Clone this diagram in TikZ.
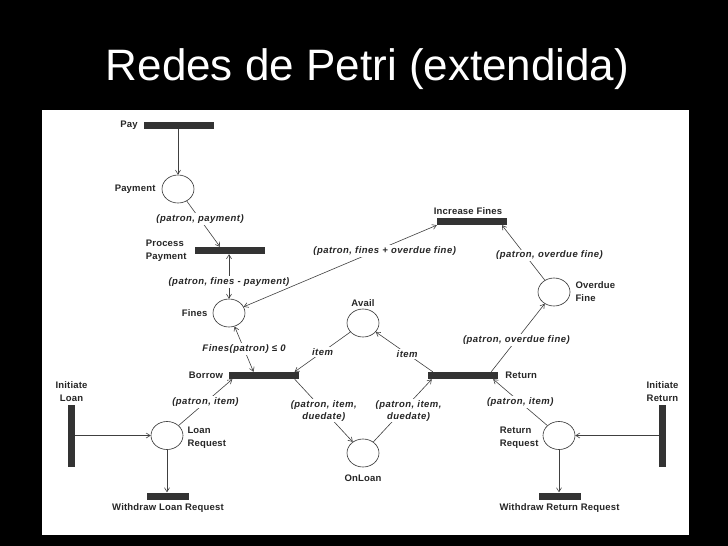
\documentclass[tikz,border=0pt]{standalone}
\usepackage{fontspec}
\setmainfont{Liberation Sans}
\newfontfamily\petrifont[LetterSpace=2]{Liberation Sans}
\newfontfamily\arcfont[LetterSpace=5]{Liberation Sans}
\usetikzlibrary{arrows.meta,shapes.geometric,positioning}
\tikzset{
  >={Straight Barb[length=4pt,width=5pt]},
  place/.style={ellipse,draw=black!80,line width=0.6pt,minimum width=32pt,
    minimum height=28pt,inner sep=0pt},
  tbar/.style={fill=black!80,minimum width=70pt,minimum height=7pt,inner sep=0pt},
  wbar/.style={tbar,minimum width=42pt},
  vbar/.style={fill=black!80,minimum width=7pt,minimum height=62pt,inner sep=0pt},
  arc/.style={->,draw=black!75,line width=0.6pt},
  arcboth/.style={<->,draw=black!75,line width=0.6pt},
  nlbl/.style={font=\petrifont\bfseries\fontsize{9.5}{13}\selectfont,
    inner sep=1pt,text=black!85},
  albl/.style={font=\arcfont\bfseries\itshape\fontsize{9.5}{12}\selectfont,
    fill=white,inner sep=1.5pt,text=black!85},
}
\begin{document}
\begin{tikzpicture}[x=1pt,y=-1pt]
  \useasboundingbox (0,0) rectangle (728,546);
  \fill[black] (0,0) rectangle (728,546);
  \fill[white] (42,110) rectangle (689,535);
  \node[font=\fontsize{44}{50}\selectfont,text=white,anchor=base] (title)
    at (367.5,80) {Redes de Petri (extendida)};

  % transitions
  \node[tbar] (pay) at (179,125.5) {};
  \node[tbar] (procpay) at (230,250.5) {};
  \node[tbar] (incfines) at (472,221.5) {};
  \node[tbar] (borrow) at (263.5,375.5) {};
  \node[tbar] (return) at (463,375.5) {};
  \node[vbar] (initloan) at (71.5,435.5) {};
  \node[vbar] (initret) at (662.5,435.5) {};
  \node[wbar] (wloan) at (168,496) {};
  \node[wbar] (wret) at (559.5,496) {};

  % places
  \node[place] (payment) at (178,189) {};
  \node[place] (fines) at (229,313) {};
  \node[place] (overdue) at (554,292) {};
  \node[place] (avail) at (363,323) {};
  \node[place] (onloan) at (363,453) {};
  \node[place] (loanreq) at (167,435.5) {};
  \node[place] (retreq) at (559,435.5) {};

  % names
  \node[nlbl,left=5pt of pay] (pay-l) {Pay};
  \node[nlbl,left=5pt of payment] (payment-l) {Payment};
  \node[nlbl,align=left,left=7pt of procpay] (procpay-l) {Process\\Payment};
  \node[nlbl,above=2pt of incfines,xshift=-4pt] (incfines-l) {Increase Fines};
  \node[nlbl,left=4pt of fines] (fines-l) {Fines};
  \node[nlbl,align=left,right=4pt of overdue] (overdue-l) {Overdue\\Fine};
  \node[nlbl,above=1pt of avail] (avail-l) {Avail};
  \node[nlbl,left=4pt of borrow] (borrow-l) {Borrow};
  \node[nlbl,right=6pt of return] (return-l) {Return};
  \node[nlbl,below=6pt of onloan] (onloan-l) {OnLoan};
  \node[nlbl,align=left,right=3pt of loanreq,yshift=-2pt] (loanreq-l) {Loan\\Request};
  \node[nlbl,align=left,left=3pt of retreq,yshift=-2pt] (retreq-l) {Return\\Request};
  \node[nlbl,align=center,above=2pt of initloan] (initloan-l) {Initiate\\Loan};
  \node[nlbl,align=center,above=2pt of initret] (initret-l) {Initiate\\Return};
  \node[nlbl,below=3pt of wloan] (wloan-l) {Withdraw Loan Request};
  \node[nlbl,below=3pt of wret] (wret-l) {Withdraw Return Request};

  % arcs
  \draw[arc] (payment.north |- pay.south) -- (payment);
  \draw[arc] (payment) -- node[albl,pos=0.4] {(patron, payment)}
    ([xshift=-10pt]procpay.north);
  \draw[arcboth] (fines.north |- procpay.south) -- node[albl,pos=0.62]
    {(patron, fines - payment)} (fines);
  \draw[arcboth] (incfines.south west) -- node[albl,pos=0.27,yshift=-4pt]
    {(patron, fines + overdue fine)} (fines);
  \draw[arc] (overdue) -- node[albl,pos=0.45,xshift=24pt]
    {(patron, overdue fine)} ([xshift=30pt]incfines.south);
  \draw[arc] ([xshift=-7pt]return.north east) -- node[albl,pos=0.47]
    {(patron, overdue fine)} (overdue);
  \draw[arc] (avail) -- node[albl] {item} ([xshift=-4pt]borrow.north east);
  \draw[arc] ([xshift=5pt]return.north west) -- node[albl,pos=0.45] {item} (avail);
  \draw[arcboth] (fines) -- node[albl] {Fines(patron) ≤ 0}
    ([xshift=-10pt]borrow.north);
  \draw[arc] ([xshift=-4pt]borrow.south east) -- node[albl,align=center]
    {(patron, item,\\duedate)} (onloan);
  \draw[arc] (onloan) -- node[albl,align=center,xshift=6pt]
    {(patron, item,\\duedate)} ([xshift=4pt]return.south west);
  \draw[arc] (loanreq) -- node[albl] {(patron, item)}
    ([xshift=4pt]borrow.south west);
  \draw[arc] (initloan) -- (loanreq);
  \draw[arc] (loanreq) -- (loanreq |- wloan.north);
  \draw[arc] (retreq) -- node[albl] {(patron, item)}
    ([xshift=-5pt]return.south east);
  \draw[arc] (initret) -- (retreq);
  \draw[arc] (retreq) -- (retreq |- wret.north);
\end{tikzpicture}
\end{document}
